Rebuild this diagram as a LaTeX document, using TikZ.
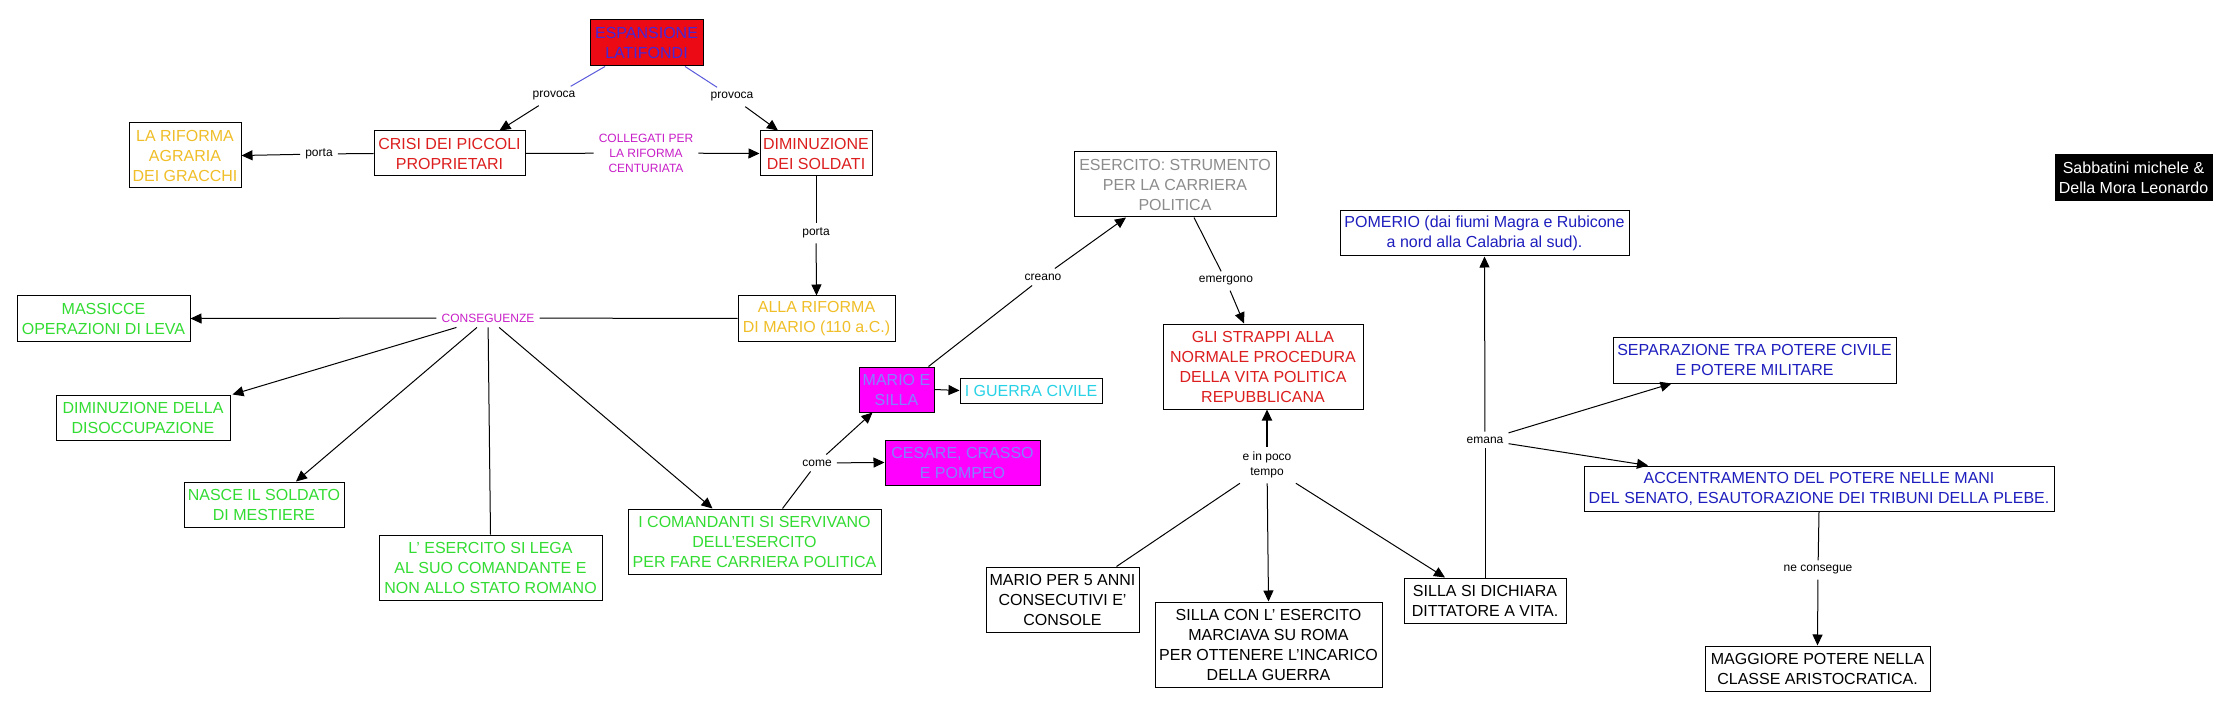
\documentclass[tikz,border=0pt]{standalone}
\usepackage{fontspec}
\setmainfont{Liberation Sans}
\usetikzlibrary{arrows.meta,calc}
\definecolor{espred}{RGB}{236,10,20}
\definecolor{esptext}{RGB}{70,40,215}
\definecolor{bluln}{RGB}{90,90,220}
\definecolor{grn}{RGB}{50,220,50}
\definecolor{yel}{RGB}{240,190,40}
\definecolor{rdt}{RGB}{220,30,30}
\definecolor{mag}{RGB}{255,0,255}
\definecolor{magtext}{RGB}{130,130,255}
\definecolor{cyn}{RGB}{40,210,230}
\definecolor{gry}{RGB}{140,140,140}
\definecolor{blu}{RGB}{30,30,190}
\definecolor{maglab}{RGB}{200,30,200}
\newcommand\bxf{\fontsize{16}{20}\selectfont}
\newcommand\lbf{\fontsize{12}{15}\selectfont}
\begin{document}
\begin{tikzpicture}[x=1pt,y=-1pt,
  box/.style={draw=black, line width=1pt, align=center, inner xsep=2pt, inner ysep=1pt, font=\bxf},
  lab/.style={inner sep=5pt, align=center, font=\lbf},
  ln/.style={draw=black, line width=1pt},
  arr/.style={draw=black, line width=1pt, -{Triangle[length=11pt,width=10pt]}},
  blueln/.style={draw=bluln, line width=1pt}]
\fill[white] (0,0) rectangle (2224,711);
\useasboundingbox (0,0) rectangle (2224,711);
% boxes
\node[box, fill=espred, text=esptext, minimum width=113pt, minimum height=46pt] (esp) at (646.5,43) {ESPANSIONE\\LATIFONDI};
\node[box, text=yel, minimum width=112pt, minimum height=65pt] (gracchi) at (185,155.5) {LA RIFORMA\\AGRARIA\\DEI GRACCHI};
\node[box, text=rdt, minimum width=151pt, minimum height=45pt] (crisi) at (449.5,153.5) {CRISI DEI PICCOLI\\PROPRIETARI};
\node[box, text=rdt, minimum width=112pt, minimum height=45pt] (dimin) at (816,153.5) {DIMINUZIONE\\DEI SOLDATI};
\node[box, text=yel, minimum width=157pt, minimum height=45pt] (mario110) at (816.5,318.5) {ALLA RIFORMA\\DI MARIO (110 a.C.)};
\node[box, text=grn, minimum width=173pt, minimum height=45pt] (massicce) at (103.5,318.5) {MASSICCE\\OPERAZIONI DI LEVA};
\node[box, text=grn, minimum width=174pt, minimum height=45pt] (disocc) at (143,417.5) {DIMINUZIONE DELLA\\DISOCCUPAZIONE};
\node[box, text=grn, minimum width=160pt, minimum height=45pt] (nasce) at (264,504.5) {NASCE IL SOLDATO\\DI MESTIERE};
\node[box, text=grn, minimum width=223pt, minimum height=65pt] (lega) at (490.5,567.5) {L' ESERCITO SI LEGA\\AL SUO COMANDANTE E\\NON ALLO STATO ROMANO};
\node[box, text=grn, minimum width=253pt, minimum height=65pt] (comand) at (754.5,541.5) {I COMANDANTI SI SERVIVANO\\DELL'ESERCITO\\PER FARE CARRIERA POLITICA};
\node[box, fill=mag, text=magtext, minimum width=75pt, minimum height=45pt] (marsil) at (896.5,389.5) {MARIO E\\SILLA};
\node[box, text=cyn, minimum width=142pt, minimum height=25pt] (guerra) at (1031,390.5) {I GUERRA CIVILE};
\node[box, fill=mag, text=magtext, minimum width=155pt, minimum height=45pt] (cesare) at (962.5,462.5) {CESARE, CRASSO\\E POMPEO};
\node[box, text=gry, minimum width=202pt, minimum height=65pt] (strum) at (1175,184.5) {ESERCITO: STRUMENTO\\PER LA CARRIERA\\POLITICA};
\node[box, text=rdt, minimum width=200pt, minimum height=85pt] (strappi) at (1263,366.5) {GLI STRAPPI ALLA\\NORMALE PROCEDURA\\DELLA VITA POLITICA\\REPUBBLICANA};
\node[box, text=blu, minimum width=289pt, minimum height=45pt] (pomerio) at (1484.5,233.5) {POMERIO (dai fiumi Magra e Rubicone\\a nord alla Calabria al sud).};
\node[box, fill=black, text=white, minimum width=157pt, minimum height=46pt] (sabb) at (2133.5,178) {Sabbatini michele \&\\Della Mora Leonardo};
\node[box, text=blu, minimum width=283pt, minimum height=46pt] (separ) at (1754.5,360) {SEPARAZIONE TRA POTERE CIVILE\\E POTERE MILITARE};
\node[box, minimum width=153pt, minimum height=65pt] (mario5) at (1062.5,599.5) {MARIO PER 5 ANNI\\CONSECUTIVI E'\\CONSOLE};
\node[box, minimum width=227pt, minimum height=85pt] (sillacon) at (1268.5,644.5) {SILLA CON L' ESERCITO\\MARCIAVA SU ROMA\\PER OTTENERE L'INCARICO\\DELLA GUERRA};
\node[box, minimum width=162pt, minimum height=45pt] (sillasi) at (1485,600.5) {SILLA SI DICHIARA\\DITTATORE A VITA.};
\node[box, text=blu, minimum width=470pt, minimum height=45pt] (accentr) at (1819,488.5) {ACCENTRAMENTO DEL POTERE NELLE MANI\\DEL SENATO, ESAUTORAZIONE DEI TRIBUNI DELLA PLEBE.};
\node[box, minimum width=225pt, minimum height=45pt] (maggiore) at (1817.5,668.5) {MAGGIORE POTERE NELLA\\CLASSE ARISTOCRATICA.};
% labels
\node[lab] (prov1) at (554,96) {provoca};
\node[lab] (prov2) at (732,97) {provoca};
\node[lab] (porta1) at (319,154) {porta};
\node[lab, text=maglab] (colleg) at (646,153) {COLLEGATI PER\\LA RIFORMA\\CENTURIATA};
\node[lab] (porta2) at (816,233) {porta};
\node[lab, text=maglab] (conseg) at (488,318) {CONSEGUENZE};
\node[lab] (come) at (817,463) {come};
\node[lab] (creano) at (1043,277) {creano};
\node[lab] (emergono) at (1226,281) {emergono};
\node[lab] (einpoco) at (1267,465) {e in poco\\tempo};
\node[lab] (emana) at (1485,440) {emana};
\node[lab] (necons) at (1818,570) {ne consegue};
% connectors
\draw[blueln] ($(esp.south)+(-41.5,0)$) -- (prov1);
\draw[arr] (prov1) -- ($(crisi.north)+(50,0)$);
\draw[blueln] ($(esp.south)+(38.5,0)$) -- (prov2);
\draw[arr] (prov2) -- ($(dimin.north)+(-38,0)$);
\draw[ln] (crisi.west) -- (porta1);
\draw[arr] (porta1) -- (gracchi.east);
\draw[ln] (crisi.east) -- (colleg);
\draw[arr] (colleg) -- (dimin.west);
\draw[ln] (dimin.south) -- (porta2);
\draw[arr] (porta2) -- (mario110.north);
\draw[ln] (mario110.west) -- (conseg);
\draw[arr] (conseg) -- (massicce.east);
\draw[arr] (conseg) -- ($(disocc.north east)+(2,0)$);
\draw[arr] (conseg) -- ($(nasce.north)+(32,0)$);
\draw[ln] (conseg) -- (lega.north);
\draw[arr] (conseg) -- ($(comand.north)+(-42,0)$);
\draw[ln] ($(comand.north)+(28,0)$) -- (come);
\draw[arr] (come) -- ($(marsil.south)+(-24,0)$);
\draw[arr] (come) -- (cesare.west);
\draw[arr] (marsil.east) -- (guerra.west);
\draw[ln] ($(marsil.north)+(32,0)$) -- (creano);
\draw[arr] (creano) -- ($(strum.south)+(-49,0)$);
\draw[ln] ($(strum.south)+(19,0)$) -- (emergono);
\draw[arr] (emergono) -- ($(strappi.north)+(-19,0)$);
\draw[arr, line width=2pt] (einpoco) -- ($(strappi.south)+(4,0)$);
\draw[arr] (einpoco) -- (sillacon.north);
\draw[arr] (einpoco) -- ($(sillasi.north)+(-40,0)$);
\draw[ln] ($(mario5.north)+(54,0)$) -- (einpoco);
\draw[ln] (sillasi.north) -- (emana);
\draw[arr] (emana) -- (pomerio.south);
\draw[arr] (emana) -- ($(separ.south)+(-83,0)$);
\draw[arr] (emana) -- ($(accentr.north)+(-171,0)$);
\draw[ln] (accentr.south) -- (necons);
\draw[arr] (necons) -- (maggiore.north);
\end{tikzpicture}
\end{document}
